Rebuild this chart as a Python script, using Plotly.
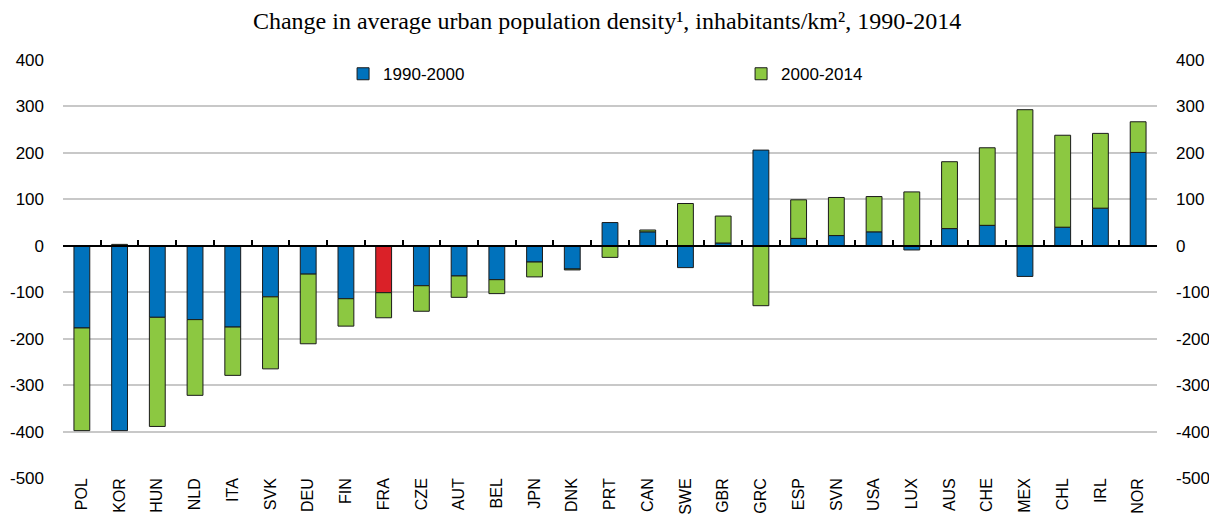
import plotly.graph_objects as go

countries = ["POL", "KOR", "HUN", "NLD", "ITA", "SVK", "DEU", "FIN", "FRA", "CZE",
             "AUT", "BEL", "JPN", "DNK", "PRT", "CAN", "SWE", "GBR", "GRC", "ESP",
             "SVN", "USA", "LUX", "AUS", "CHE", "MEX", "CHL", "IRL", "NOR"]
change_1990_2000 = [-177, -398, -154, -159, -175, -110, -61, -114, -101, -86,
                    -65, -73, -35, -50, 50, 30, -47, 6, 206, 16,
                    22, 30, -9, 37, 44, -66, 40, 81, 201]
change_2000_2014 = [-221, 3, -235, -163, -104, -155, -150, -59, -54, -55,
                    -46, -30, -32, -2, -25, 4, 91, 58, -129, 83,
                    82, 76, 116, 144, 167, 293, 198, 161, 66]
highlight = "FRA"
y_ticks = [400, 300, 200, 100, 0, -100, -200, -300, -400, -500]
y_min, y_max = -500, 400

BLUE = "#0072BC"
GREEN = "#8CC841"
RED = "#DA2128"
EDGE = "#1a1a1a"
FONT = "Liberation Sans, Arial, sans-serif"

blue_colors = [RED if c == highlight else BLUE for c in countries]

fig = go.Figure()
fig.add_trace(go.Bar(
    x=countries, y=change_1990_2000, name="1990-2000",
    marker=dict(color=blue_colors, line=dict(color=EDGE, width=1)),
    width=0.42,
))
fig.add_trace(go.Bar(
    x=countries, y=change_2000_2014, name="2000-2014",
    marker=dict(color=GREEN, line=dict(color=EDGE, width=1)),
    width=0.42,
))
# invisible helper trace for the label axis / right axis
fig.add_trace(go.Scatter(
    x=countries, y=[0] * len(countries), xaxis="x2", yaxis="y2",
    mode="markers", marker=dict(opacity=0), showlegend=False, hoverinfo="skip",
))

zero_pos = (0 - y_min) / (y_max - y_min)
tick_font = dict(family=FONT, size=17, color="#000000")

fig.update_layout(
    width=1209, height=510,
    margin=dict(l=55, r=60, t=52, b=40, autoexpand=False),
    paper_bgcolor="white", plot_bgcolor="white",
    barmode="relative", bargap=0.5,
    title=dict(
        text="Change in average urban population density¹, inhabitants/km², 1990-2014",
        x=0.4955, xanchor="center", yref="container", y=0.9757, yanchor="middle",
        font=dict(family="Liberation Serif, Times New Roman, serif", size=24, color="#000000"),
    ),
    legend=dict(
        orientation="h", x=0.256, xanchor="left", y=0.966, yanchor="middle",
        entrywidth=353, entrywidthmode="pixels",
        font=dict(family=FONT, size=17, color="#000000"),
        bgcolor="rgba(0,0,0,0)", traceorder="normal",
    ),
    xaxis=dict(
        type="category", range=[-0.5, len(countries) - 0.5],
        anchor="free", position=zero_pos, automargin=False,
        showline=True, linecolor="#000000", linewidth=1.5,
        ticks="inside", ticklen=5, tickwidth=1.5, tickcolor="#000000",
        tickson="boundaries", showticklabels=False, showgrid=False, zeroline=False,
    ),
    xaxis2=dict(
        type="category", overlaying="x", anchor="y", side="bottom",
        range=[-0.5, len(countries) - 0.5], automargin=False,
        showline=False, ticks="", showgrid=False, zeroline=False,
        tickangle=-90, tickfont=dict(family=FONT, size=16, color="#000000"),
        ticklabelstandoff=-4,
    ),
    yaxis=dict(
        range=[y_min, y_max], tickvals=y_ticks, ticktext=[str(v) for v in y_ticks],
        showgrid=True, gridcolor="#C8C8C8", gridwidth=1.5, automargin=False,
        zeroline=False, showline=False, ticks="", ticklabelstandoff=18,
        tickfont=tick_font,
    ),
    yaxis2=dict(
        range=[y_min, y_max], tickvals=y_ticks, ticktext=[str(v) for v in y_ticks],
        overlaying="y", side="right", anchor="x", automargin=False,
        showgrid=False, zeroline=False, showline=False, ticks="", ticklabelstandoff=18,
        tickfont=tick_font,
    ),
)

fig.write_html("out.html")
